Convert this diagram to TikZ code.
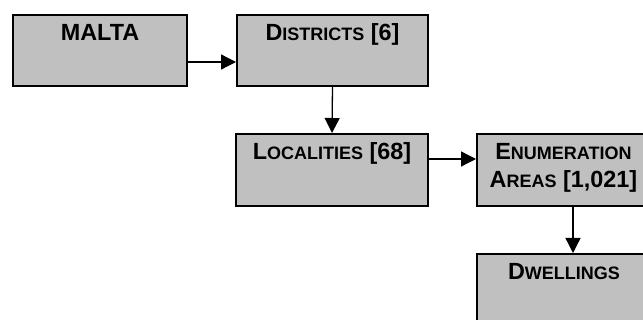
\documentclass[tikz,border=0pt]{standalone}
\usepackage{fontspec}
\setmainfont{Liberation Sans}
\usetikzlibrary{arrows.meta}
\definecolor{boxgray}{HTML}{C0C0C0}
\newcommand\fsc[2]{#1{\fontsize{18pt}{18pt}\selectfont #2}}
\begin{document}
\begin{tikzpicture}[x=1pt,y=-1pt,
  box/.style={draw=black,line width=2pt,fill=boxgray,anchor=north west,inner sep=0pt,minimum width=192pt,minimum height=72pt},
  lbl/.style={font=\fontsize{23.4pt}{28pt}\selectfont\bfseries,anchor=base,inner sep=0pt},
  arr/.style={line width=1.3pt,-{Triangle[length=15pt,width=15pt]}}]
\useasboundingbox (0,0) rectangle (643,320);
\clip (0,0) rectangle (643,320);
\node[box,minimum width=174pt,minimum height=71pt] (malta) at (12,14) {};
\node[box,minimum width=191pt,minimum height=71pt] (districts) at (236,14) {};
\node[box] (localities) at (235,133) {};
\node[box] (enum) at (476,133) {};
\node[box] (dwell) at (476,253) {};
\node[lbl] (tmalta) at ([yshift=-26.3pt]malta.north) {MALTA};
\node[lbl] (tdistricts) at ([yshift=-26.3pt]districts.north) {\fsc{D}{ISTRICTS} [6]};
\node[lbl] (tlocalities) at ([yshift=-26.7pt]localities.north) {\fsc{L}{OCALITIES} [68]};
\node[lbl] (tenum1) at ([xshift=-9.5pt,yshift=-26.3pt]enum.north) {\fsc{E}{NUMERATION}};
\node[lbl] (tenum2) at ([xshift=-9.5pt,yshift=-54.7pt]enum.north) {\fsc{A}{REAS} [1,021]};
\node[lbl] (tdwell) at ([xshift=-9pt,yshift=-26.3pt]dwell.north) {\fsc{D}{WELLINGS}};
\draw[arr] ([yshift=-11.5pt]malta.east) -- ([yshift=-11.5pt]districts.west);
\draw[arr] (districts.south) -- (localities.north);
\draw[arr] ([yshift=11pt]localities.east) -- ([yshift=11pt]enum.west);
\draw[arr] (enum.south) -- (dwell.north);
\end{tikzpicture}
\end{document}
